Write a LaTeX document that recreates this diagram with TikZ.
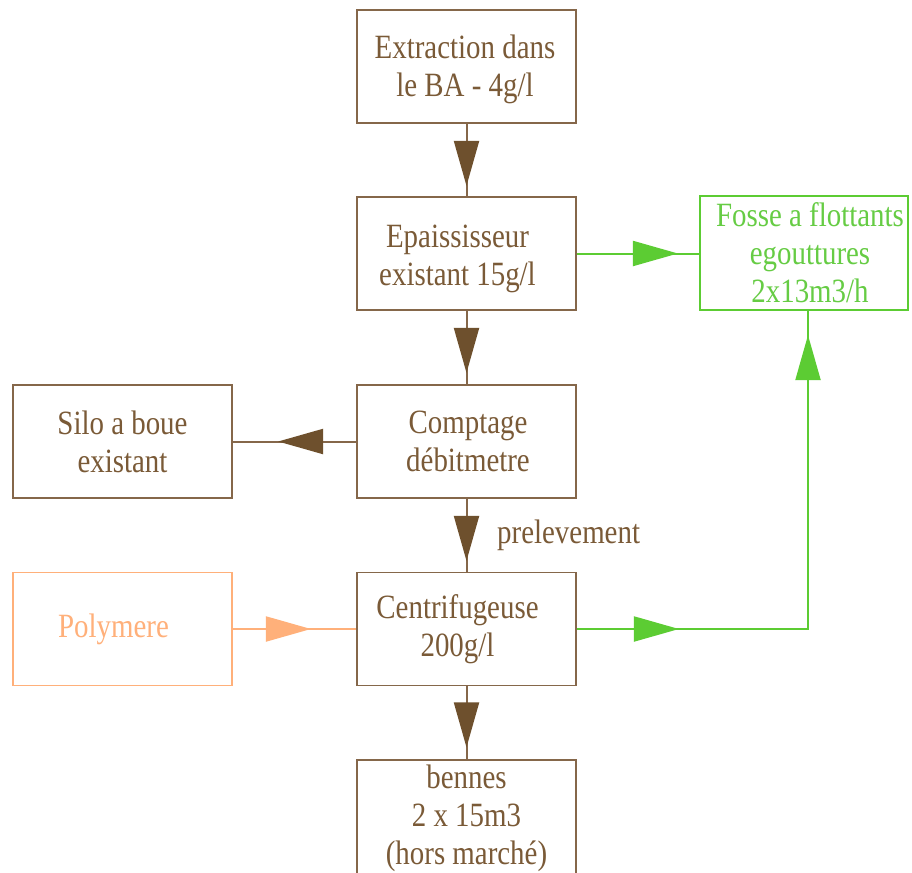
\documentclass[tikz,border=0pt]{standalone}
\usepackage{fontspec}
\setmainfont{Liberation Serif}[FakeStretch=0.85]
\usetikzlibrary{arrows.meta,decorations.markings}
\definecolor{brn}{HTML}{7A5A37}
\definecolor{boxline}{HTML}{85674A}
\definecolor{arrbrn}{HTML}{6E502D}
\definecolor{grn}{HTML}{5CCC33}
\definecolor{grntxt}{HTML}{66CC44}
\definecolor{org}{HTML}{FFB07A}
\tikzset{
  box/.style={draw=boxline, line width=1.8pt, minimum width=219pt, minimum height=113pt,
    inner sep=0pt, align=center, font=\fontsize{34}{38}\selectfont, text=brn},
  txt/.style={inner sep=0pt, align=center, font=\fontsize{34}{38}\selectfont, text=brn},
  bline/.style={draw=boxline, line width=2pt},
  gline/.style={draw=grn, line width=2pt},
  oline/.style={draw=org, line width=2pt},
  marr/.style 2 args={postaction={decorate}, decoration={markings,
    mark=at position #1 with {\arrow{Triangle[length=45pt,width=25pt,color=#2]}}}},
}
\begin{document}
\begin{tikzpicture}[x=1pt,y=-1pt]
\useasboundingbox[fill=white] (0,0) rectangle (912,872);

\node[box] (extraction) at (466.5,66.5) {};
\node[txt] (extractiontxt) at (465,69.5) {Extraction dans\\le BA - 4g/l};
\node[box] (epais) at (466.5,253.5) {};
\node[txt] (epaistxt) at (457.5,259) {Epaississeur\\existant 15g/l};
\node[box] (comptage) at (466.5,441.5) {\hspace*{3pt}Comptage\\\hspace*{3pt}débitmetre};
\node[box] (silo) at (122.5,441.5) {Silo a boue\\existant};
\node[box] (centri) at (466.5,629) {Centrifugeuse\hspace*{18pt}\\200g/l\hspace*{18pt}};
\node[box, draw=org, text=org] (polymere) at (122.5,629) {Polymere\hspace*{18pt}};
\node[box, minimum height=124pt] (bennes) at (466.5,822) {};
\node[txt, anchor=north] (bennestxt) at (466.5,765) {bennes\\2 x 15m3\\(hors marché)};
\node[box, draw=grn, text=grntxt, minimum width=208pt, minimum height=114pt] (fosse) at (804,253) {\hspace*{12pt}Fosse a flottants\\\hspace*{12pt}egouttures\\\hspace*{12pt}2x13m3/h};
\node[txt, anchor=base west] (prel) at (497,543) {prelevement};

\draw[bline, marr={62pt}{arrbrn}] (extraction) -- (epais);
\draw[bline, marr={62pt}{arrbrn}] (epais) -- (comptage);
\draw[bline, marr={62pt}{arrbrn}] (comptage) -- (centri);
\draw[bline, marr={61pt}{arrbrn}] (centri) -- (bennes);
\draw[bline, marr={78pt}{arrbrn}] (comptage) -- (silo);
\draw[oline, marr={78pt}{org}] (polymere) -- (centri);
\draw[gline, marr={101pt}{grn}] (epais.east) -- (epais.east -| fosse.west);
\coordinate (fossein) at ([xshift=4pt]fosse.south);
\draw[gline, postaction={decorate}, decoration={markings,
    mark=at position 102pt with {\arrow{Triangle[length=45pt,width=25pt,color=grn]}},
    mark=at position 525pt with {\arrow{Triangle[length=45pt,width=25pt,color=grn]}}}]
  (centri.east) -| (fossein);
\end{tikzpicture}
\end{document}
